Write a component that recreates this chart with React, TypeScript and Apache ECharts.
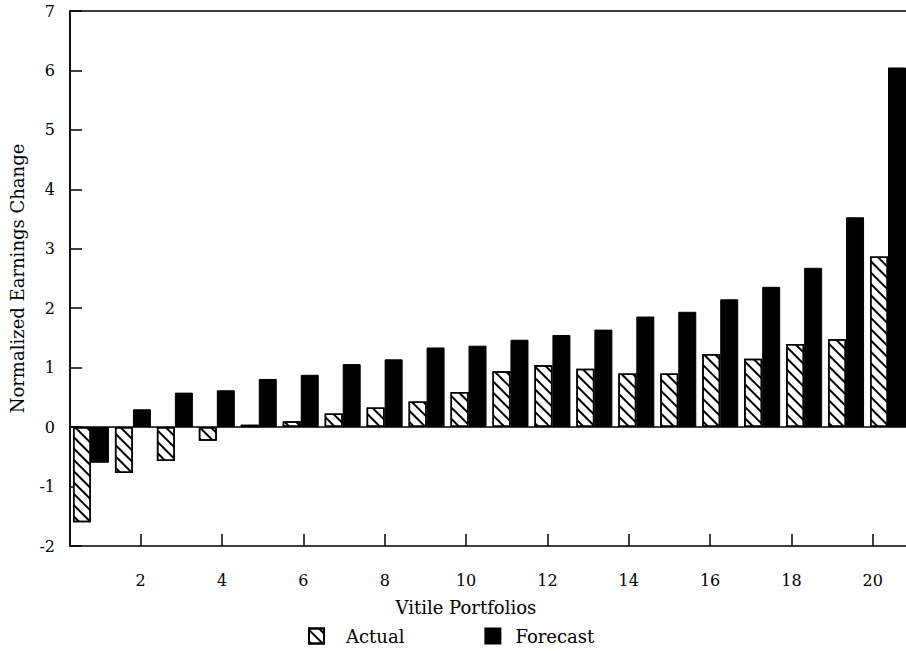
import React, { useEffect, useRef } from "react";
import * as echarts from "echarts";

const categories = ["1","2","3","4","5","6","7","8","9","10","11","12","13","14","15","16","17","18","19","20"];
const actual = [-1.6,-0.77,-0.57,-0.23,0.04,0.1,0.23,0.33,0.43,0.59,0.94,1.04,0.98,0.9,0.9,1.23,1.15,1.4,1.48,2.87];
const forecast = [-0.6,0.3,0.58,0.62,0.81,0.88,1.06,1.14,1.34,1.37,1.47,1.55,1.64,1.86,1.94,2.15,2.36,2.68,3.53,6.05];
const yTicks = { min: -2, max: 7, interval: 1 };
const xTickLabels = { min: 2, max: 22, interval: 2 };

const FONT = "DejaVu Serif";

export default function App() {
  const ref = useRef<HTMLDivElement>(null);
  useEffect(() => {
    if (!ref.current) return;
    const chart = echarts.init(ref.current, null, { renderer: "svg" });
    const hatch = {
      symbol: "rect",
      symbolSize: 1,
      dashArrayX: [1, 0],
      dashArrayY: [1.6, 5.4],
      rotation: Math.PI / 4,
      color: "#000",
      backgroundColor: "#fff",
    };
    chart.setOption({
      animation: false,
      backgroundColor: "#fff",
      textStyle: { fontFamily: FONT, color: "#000" },
      grid: [
        { left: 70, top: 11, width: 839, height: 535, show: true, borderColor: "#000", borderWidth: 1.5, backgroundColor: "transparent", outerBoundsMode: "none", containLabel: false },
        { left: 140.7, top: 11, width: 813.4, height: 535, show: false, outerBoundsMode: "none", containLabel: false },
      ],
      legend: {
        left: 308,
        top: 627,
        padding: 0,
        itemWidth: 15,
        itemHeight: 15,
        itemGap: 80,
        icon: "rect",
        textStyle: { fontFamily: FONT, fontSize: 18, color: "#000" },
        data: [
          { name: "Actual", textStyle: { padding: [0, 0, 0, 17] } },
          { name: "Forecast", textStyle: { padding: [0, 0, 0, 10] } },
        ],
      },
      xAxis: [
        {
          type: "category",
          gridIndex: 0,
          data: categories,
          axisLine: { show: true, onZero: true, lineStyle: { color: "#000", width: 1.5 } },
          axisTick: { show: false },
          axisLabel: { show: false },
          splitLine: { show: false },
        },
        {
          type: "value",
          gridIndex: 1,
          position: "bottom",
          min: xTickLabels.min,
          max: xTickLabels.max,
          interval: xTickLabels.interval,
          name: "Vitile Portfolios",
          nameLocation: "middle",
          nameGap: 52,
          nameTextStyle: { fontFamily: FONT, fontSize: 18, color: "#000", padding: [0, 163, 0, 0] },
          axisLine: { show: false, onZero: false },
          axisTick: { show: true, inside: true, length: 12, lineStyle: { color: "#000", width: 1.5 } },
          axisLabel: {
            margin: 26,
            fontFamily: FONT,
            fontSize: 16,
            color: "#000",
            formatter: (v: number) => (v >= 2 && v <= 20 ? String(v) : ""),
          },
          splitLine: { show: false },
        },
      ],
      yAxis: [
        {
          type: "value",
          gridIndex: 0,
          min: yTicks.min,
          max: yTicks.max,
          interval: yTicks.interval,
          name: "Normalized Earnings Change",
          nameLocation: "middle",
          nameGap: 44,
          nameTextStyle: { fontFamily: FONT, fontSize: 18, color: "#000" },
          axisLine: { show: true, lineStyle: { color: "#000", width: 1.5 } },
          axisTick: { show: true, inside: true, length: 12, lineStyle: { color: "#000", width: 1.5 } },
          axisLabel: { margin: 15, fontFamily: FONT, fontSize: 16, color: "#000" },
          splitLine: { show: false },
        },
        { type: "value", gridIndex: 1, show: false, min: 0, max: 1 },
      ],
      series: [
        {
          name: "Actual",
          type: "bar",
          xAxisIndex: 0,
          yAxisIndex: 0,
          data: actual,
          barWidth: 18,
          barGap: "0%",
          itemStyle: { color: "#fff", borderColor: "#000", borderWidth: 1.5, decal: hatch },
        },
        {
          name: "Forecast",
          type: "bar",
          xAxisIndex: 0,
          yAxisIndex: 0,
          data: forecast,
          barWidth: 18,
          barGap: "0%",
          itemStyle: { color: "#000", borderColor: "#000", borderWidth: 1 },
        },
      ],
    });
    return () => chart.dispose();
  }, []);
  return <div ref={ref} style={{ position: "fixed", left: 0, top: 0, width: 906, height: 651 }} />;
}
